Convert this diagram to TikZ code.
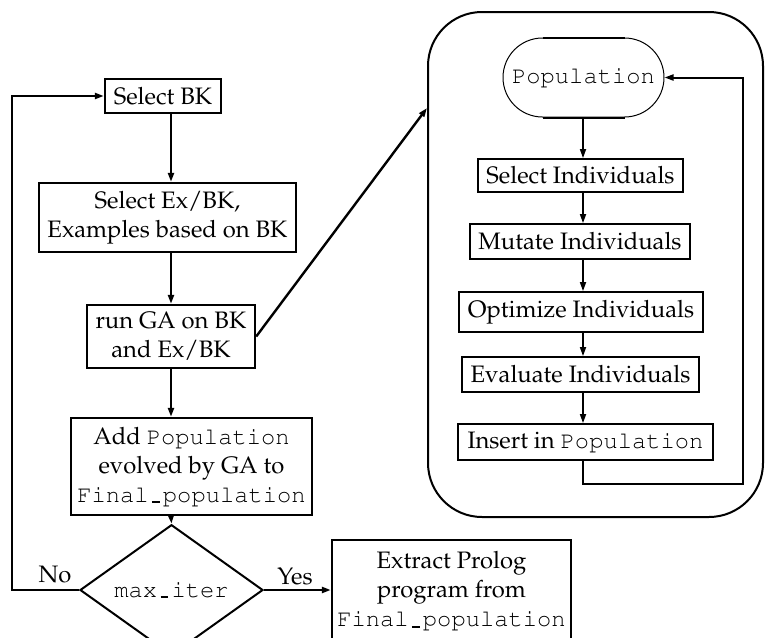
\documentclass[tikz,border=0pt]{standalone}
\usepackage[T1]{fontenc}
\usepackage{mathpazo}
\usepackage{courier}
\usetikzlibrary{shapes.geometric,shapes.misc,arrows.meta}

% short underscore bar, one typewriter cell wide
\newcommand{\usbar}{\makebox[0.6em]{\rule[-0.05em]{0.32em}{0.09em}}}

\begin{document}
\begin{tikzpicture}[x=0.5pt,y=-0.5pt,
  font=\fontsize{11.9}{14.5}\selectfont,
  tip/.style={-{Triangle[length=4.5pt,width=3pt]}},
  lbox/.style={draw, line width=1.2pt, inner sep=0pt, align=center},
  rbox/.style={draw, line width=0.9pt, inner sep=0pt, align=center},
  larrow/.style={tip, line width=1.2pt},
  rarrow/.style={tip, line width=0.8pt}]

\useasboundingbox (0,0) rectangle (765,637);

% main loop (left column)
\node[lbox, minimum width=58pt, minimum height=17pt] (selbk) at (163,96) {Select BK};
\node[lbox, minimum width=128.5pt, minimum height=34.5pt] (selex) at (167.5,217.5)
  {Select Ex/BK,\\Examples based on BK};
\node[lbox, minimum width=84pt, minimum height=31.5pt] (runga) at (171,336.5)
  {run GA on BK\\and Ex/BK};
\node[lbox, minimum width=120.5pt, minimum height=48.5pt] (add) at (191.5,466.5)
  {Add \texttt{Population}\\evolved by GA to\\\texttt{Final\usbar population}};
\node[draw, diamond, line width=1pt, inner sep=0pt, minimum width=91.5pt,
  minimum height=47pt] (iter) at (171.5,590) {\texttt{max\usbar iter}};
\node[lbox, minimum width=119.5pt, minimum height=51pt] (extract) at (451.5,591)
  {Extract Prolog\\program from\\\texttt{Final\usbar population}};

\node (no) at (55,575) {No};
\node (yes) at (295,577) {Yes};

\coordinate (col) at (171,0);
\coordinate (lx) at (12,0);
\coordinate (h108) at (0,108);

\draw[larrow] (selbk.south -| col) -- (selex.north -| col);
\draw[larrow] (selex.south -| col) -- (runga.north -| col);
\draw[larrow] (runga.south -| col) -- (add.north -| col);
\draw[larrow] (add.south -| col) -- (iter.north);
\draw[larrow] (iter.west) -- (iter.west -| lx) |- (selbk.west);
\draw[larrow] (iter.east) -- (extract.west |- iter.east);

% genetic algorithm (right panel)
\node[draw, line width=1pt, rounded corners=27pt, minimum width=167.5pt,
  minimum height=252.5pt] (ga) at (595.5,264.5) {};
\draw[larrow] (runga.east) -- (ga.west |- h108);

\node[draw, rounded rectangle, line width=0.5pt, inner sep=0pt, minimum width=80.5pt,
  minimum height=39.5pt] (pop) at (583.5,77.5) {\texttt{Population}};
\draw[line width=1pt] ([xshift=-20.5pt]pop.north) -- ([xshift=20.5pt]pop.north);
\draw[line width=1pt] ([xshift=-20.5pt]pop.south) -- ([xshift=20.5pt]pop.south);

\node[rbox, minimum width=102.5pt, minimum height=16.5pt] (selind) at (580.5,175.5) {Select Individuals};
\node[rbox, minimum width=110pt, minimum height=17.5pt] (mutind) at (580,241.5) {Mutate Individuals};
\node[rbox, minimum width=122pt, minimum height=20pt] (optind) at (581,312) {Optimize Individuals};
\node[rbox, minimum width=118.5pt, minimum height=17.5pt] (evalind) at (580.5,374.5) {Evaluate Individuals};
\node[rbox, minimum width=127.5pt, minimum height=18pt] (insind) at (585.5,442) {Insert in \texttt{Population}};

\coordinate (rx) at (583,0);
\coordinate (loopc) at (743,484);

\draw[rarrow] (pop.south -| rx) -- (selind.north -| rx);
\draw[rarrow] (selind.south -| rx) -- (mutind.north -| rx);
\draw[rarrow] (mutind.south -| rx) -- (optind.north -| rx);
\draw[rarrow] (optind.south -| rx) -- (evalind.north -| rx);
\draw[rarrow] (evalind.south -| rx) -- (insind.north -| rx);
\draw[tip, line width=1pt] (insind.south -| rx) |- (loopc) |- (pop.east);

\end{tikzpicture}
\end{document}
